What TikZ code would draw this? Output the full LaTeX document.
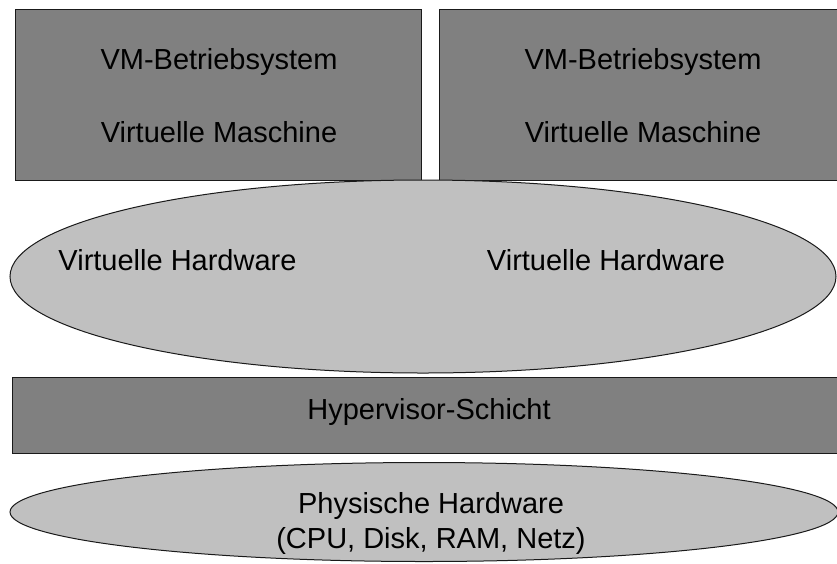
\documentclass[tikz,border=0pt]{standalone}
\usepackage{fontspec}
\setmainfont{Liberation Sans}
\usetikzlibrary{shapes.geometric}
\definecolor{darkfill}{HTML}{808080}
\definecolor{lightfill}{HTML}{C0C0C0}
\definecolor{edge}{HTML}{1A1A1A}
\begin{document}
\begin{tikzpicture}[x=1pt,y=-1pt,
  layerbox/.style={draw=edge,fill=darkfill,line width=1pt,rectangle,inner sep=0pt},
  layerell/.style={draw=edge,fill=lightfill,line width=1pt,ellipse,inner sep=0pt},
  txt/.style={anchor=base,inner sep=0pt,font=\fontsize{29}{34}\selectfont}]
\useasboundingbox (0,0) rectangle (837,563);
\fill[white] (0,0) rectangle (837,563);
% top boxes
\node[layerbox,minimum width=406pt,minimum height=171pt] (vm1) at (218,94.5) {};
\node[layerbox,minimum width=409pt,minimum height=171pt] (vm2) at (643.5,94.5) {};
\node[txt] (os1) at (219,69) {VM-Betriebsystem};
\node[txt] (ma1) at (219,142) {Virtuelle Maschine};
\node[txt] (os2) at (643,69) {VM-Betriebsystem};
\node[txt] (ma2) at (643,142) {Virtuelle Maschine};
% virtual hardware ellipse
\node[layerell,minimum width=826pt,minimum height=193pt] (vh) at (423,276.5) {};
\node[txt] (vh1) at (177.5,270) {Virtuelle Hardware};
\node[txt] (vh2) at (606,270) {Virtuelle Hardware};
% hypervisor
\node[layerbox,minimum width=836pt,minimum height=76pt] (hv) at (430,415) {};
\node[txt] (hvt) at (429,419) {Hypervisor-Schicht};
% physical hardware
\node[layerell,minimum width=828pt,minimum height=99pt] (ph) at (424,512) {};
\node[txt] (ph1) at (431,513) {Physische Hardware};
\node[txt] (ph2) at (431,548) {(CPU, Disk, RAM, Netz)};
\end{tikzpicture}
\end{document}
